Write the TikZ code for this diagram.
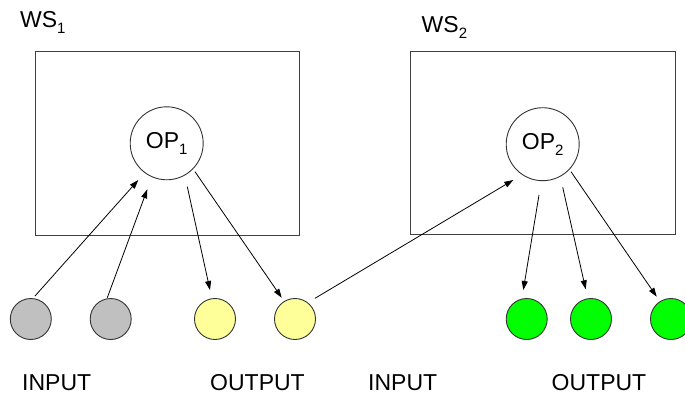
\documentclass[tikz,border=0pt]{standalone}
\usepackage{fontspec}
\setmainfont{Liberation Sans}
\usetikzlibrary{arrows.meta,calc}
\definecolor{ingray}{HTML}{C0C0C0}
\definecolor{outyel}{HTML}{FFFF99}
\definecolor{outgrn}{HTML}{00FF00}
\newcommand{\sbs}[1]{\raisebox{-0.28em}{\fontsize{15}{15}\selectfont #1}}
\begin{document}
\begin{tikzpicture}[x=1pt,y=-1pt,
  txt/.style={font=\fontsize{23}{26}\selectfont, inner sep=0pt, anchor=base west},
  wsbox/.style={draw=black!75, line width=1pt},
  opnode/.style={circle, draw=black!80, fill=white, line width=0.9pt, minimum size=73pt, inner sep=0pt, font=\fontsize{23}{26}\selectfont},
  ball/.style={circle, draw=black!80, line width=0.9pt, minimum size=41pt, inner sep=0pt},
  conn/.style={line width=0.8pt, -{Triangle[length=9pt,width=6pt]}}]
\useasboundingbox (0,0) rectangle (685,397);
% boxes
\draw[wsbox] (35,51.7) rectangle (299,235);
\draw[wsbox] (410.7,51.7) rectangle (675,234.5);
% labels
\node[txt] (ws1) at (20,27) {WS\sbs{1}};
\node[txt] (ws2) at (421.5,32) {WS\sbs{2}};
% operators
\node[opnode] (op1) at (166.7,143.3) {OP\sbs{1}};
\node[opnode] (op2) at (542.7,144.2) {OP\sbs{2}};
% balls
\node[ball, fill=ingray] (i1) at (30.8,319) {};
\node[ball, fill=ingray] (i2) at (110.7,319) {};
\node[ball, fill=outyel] (y1) at (215,319) {};
\node[ball, fill=outyel] (y2) at (295,319) {};
\node[ball, fill=outgrn] (g1) at (526.7,319) {};
\node[ball, fill=outgrn] (g2) at (591,319) {};
\node[ball, fill=outgrn] (g3) at (671,319) {};
% bottom labels
\node[txt] (lin1) at (22,390.5) {INPUT};
\node[txt] (lout1) at (210,390.5) {OUTPUT};
\node[txt] (lin2) at (368,390.5) {INPUT};
\node[txt] (lout2) at (551.5,390.5) {OUTPUT};
% connectors
\draw[conn] ($(i1)+(4.2,-23)$) -- ($(op1)+(-28.4,36.7)$);
\draw[conn] ($(i2)+(-3.4,-21.3)$) -- ($(op1)+(-19.4,46)$);
\draw[conn] ($(op1)+(20.6,43.4)$) -- ($(y1)+(-5,-29)$);
\draw[conn] ($(op1)+(28.3,28.4)$) -- ($(y2)+(-13.3,-21.3)$);
\draw[conn] ($(y2)+(20,-20.7)$) -- ($(op2)+(-29.4,35.8)$);
\draw[conn] ($(op2)+(-3.7,50.8)$) -- ($(g1)+(-3.4,-29)$);
\draw[conn] ($(op2)+(20,43.1)$) -- ($(g2)+(-5.3,-29.7)$);
\draw[conn] ($(op2)+(28.3,27.5)$) -- ($(g3)+(-14.3,-22.3)$);
\end{tikzpicture}
\end{document}
